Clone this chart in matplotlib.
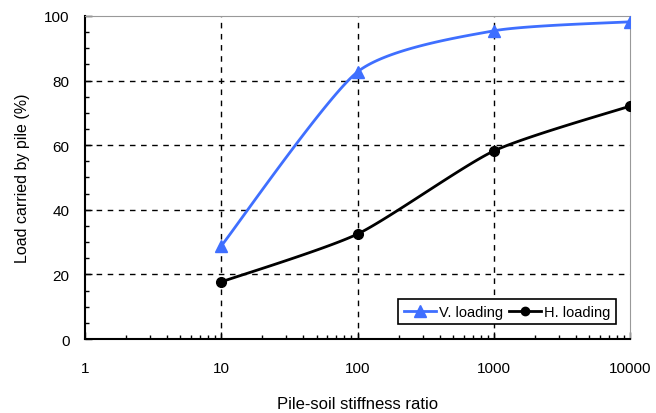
import numpy as np
import matplotlib.pyplot as plt
from matplotlib.ticker import LogLocator, MultipleLocator, FixedLocator

plt.rcParams["font.family"] = ["Liberation Sans", "DejaVu Sans"]

stiffness = [10, 100, 1000, 10000]
v_loading = [28.8, 82.7, 95.4, 98.2]
h_loading = [17.7, 32.5, 58.2, 72.1]


def smooth(xs, ys, k=0.11, n=40):
    # Bezier through the points in log-x space (like Excel "smoothed line")
    lx = np.log10(np.asarray(xs, float))
    y = np.asarray(ys, float)
    px = np.concatenate([[lx[0]], lx, [lx[-1]]])
    py = np.concatenate([[y[0]], y, [y[-1]]])
    out_x, out_y = [], []
    t = np.linspace(0, 1, n)
    for i in range(1, len(px) - 2):
        p0, p1, p2, p3 = [np.array([px[j], py[j]]) for j in (i - 1, i, i + 1, i + 2)]
        c1 = p1 + (p2 - p0) * k
        c2 = p2 - (p3 - p1) * k
        b = ((1 - t) ** 3)[:, None] * p1 + (3 * (1 - t) ** 2 * t)[:, None] * c1 \
            + (3 * (1 - t) * t ** 2)[:, None] * c2 + (t ** 3)[:, None] * p2
        out_x.append(b[:, 0])
        out_y.append(b[:, 1])
    return 10 ** np.concatenate(out_x), np.concatenate(out_y)


fig = plt.figure(figsize=(6.56, 4.14), dpi=100)
ax = fig.add_axes([0.1296, 0.1787, 0.8308, 0.7803])

sx, sy = smooth(stiffness, v_loading)
ax.plot(sx, sy, color="#3f6fff", lw=2, zorder=3)
ax.plot(stiffness, v_loading, ls="none", marker="^", ms=8, color="#3f6fff", zorder=4)
sx, sy = smooth(stiffness, h_loading)
ax.plot(sx, sy, color="black", lw=2, zorder=3)
ax.plot(stiffness, h_loading, ls="none", marker="o", ms=7, color="black", zorder=4)

# legend handles
ax.plot([], [], color="#3f6fff", lw=2, marker="^", ms=8, label="V. loading")
ax.plot([], [], color="black", lw=2, marker="o", ms=6, label="H. loading")

ax.set_xscale("log")
ax.set_xlim(1, 10000)
ax.set_ylim(0, 100)
ax.xaxis.set_major_locator(FixedLocator([1, 10, 100, 1000, 10000]))
ax.set_xticklabels(["1", "10", "100", "1000", "10000"])
ax.xaxis.set_minor_locator(LogLocator(base=10, subs=np.arange(2, 10)))
ax.xaxis.set_minor_formatter(plt.NullFormatter())
ax.yaxis.set_major_locator(MultipleLocator(20))
ax.yaxis.set_minor_locator(MultipleLocator(5))

ax.tick_params(which="both", direction="in", top=False, right=False, labelsize=11)
ax.tick_params(which="major", length=5, width=1)
ax.tick_params(which="minor", length=3, width=1)
ax.tick_params(axis="x", pad=16)
ax.tick_params(axis="y", pad=11)

for v in [10, 100, 1000]:
    ax.axvline(v, color="black", ls=(0, (4, 4)), lw=1, zorder=1)
for v in [20, 40, 60, 80]:
    ax.axhline(v, color="black", ls=(0, (4, 4)), lw=1, zorder=1)

ax.spines["left"].set_linewidth(1.5)
ax.spines["bottom"].set_linewidth(1.5)
ax.spines["top"].set_color("#999999")
ax.spines["right"].set_color("#999999")

ax.set_xlabel("Pile-soil stiffness ratio", fontsize=12, labelpad=15)
ax.set_ylabel("Load carried by pile (%)", fontsize=11.5, labelpad=10)

leg = ax.legend(loc="lower right", bbox_to_anchor=(0.975, 0.045), ncol=2,
                fancybox=False, framealpha=1, edgecolor="black", fontsize=10.5,
                handlelength=2.2, handletextpad=0.2, columnspacing=0.4,
                borderpad=0.4, borderaxespad=0)
leg.get_frame().set_linewidth(1.2)

fig.savefig("out.png", dpi=100)
